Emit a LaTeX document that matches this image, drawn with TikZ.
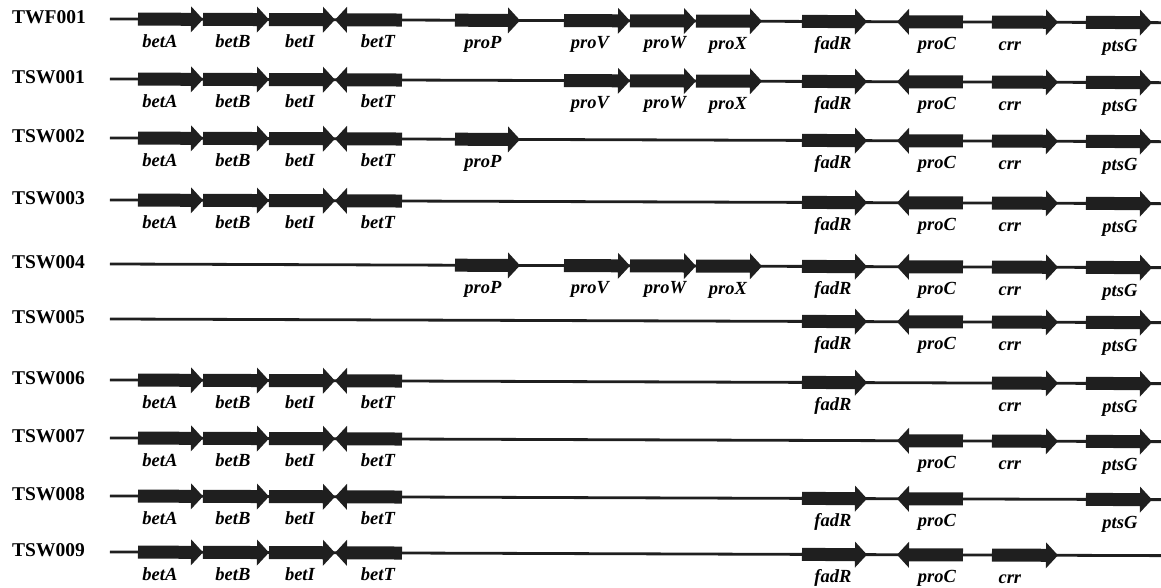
\documentclass[tikz,border=0pt]{standalone}
\usepackage{fontspec}
\setmainfont{Liberation Serif}
\tikzset{
  strain/.style={anchor=west, inner sep=0pt, font=\fontsize{19.5}{22}\selectfont\bfseries},
  genelabel/.style={anchor=base, inner sep=0pt, font=\fontsize{18.5}{21}\selectfont\bfseries\itshape},
  chrom/.style={line width=2.8pt, draw=black!88},
  genebody/.style={fill=black!88},
}

% gene: start, end, label x, label drop, direction (1 right, -1 left)
\newcommand{\genedata}[6]{\expandafter\def\csname gd#1\endcsname{{#2}{#3}{#4}{#5}{#6}}}
\genedata{betA}{138}{203}{160}{28}{1}
\genedata{betB}{203}{269}{233}{28}{1}
\genedata{betI}{269}{335}{300}{28}{1}
\genedata{betT}{335}{402}{378}{28}{-1}
\genedata{proP}{455}{520}{483}{28}{1}
\genedata{proV}{564}{630}{590}{28}{1}
\genedata{proW}{630}{696}{665}{28}{1}
\genedata{proX}{696}{762}{728}{28}{1}
\genedata{fadR}{802}{867}{833}{27.5}{1}
\genedata{proC}{897}{963}{937}{27.5}{-1}
\genedata{crr}{992}{1058}{1010}{28.5}{1}
\genedata{ptsG}{1086}{1152}{1120}{28.5}{1}

\newcommand{\drawgene}[3]{\expandafter\expandafter\expandafter\drawgeneaux\csname gd#3\endcsname{#1}{#2}{#3}}
\newcommand{\drawgeneaux}[8]{%
  \ifnum#5>0
    \fill[genebody] (#1,#7-6.5) -- (#2-12,#7-6.5) -- (#2-12,#7-13) -- (#2,#7)
      -- (#2-12,#7+13) -- (#2-12,#7+6.5) -- (#1,#7+6.5) -- cycle;
  \else
    \fill[genebody] (#2,#7-6.5) -- (#1+12,#7-6.5) -- (#1+12,#7-13) -- (#1,#7)
      -- (#1+12,#7+13) -- (#1+12,#7+6.5) -- (#2,#7+6.5) -- cycle;
  \fi
  \node[genelabel] (#6-#8) at (#3,#7+#4) {#8};
}

\begin{document}
\begin{tikzpicture}[x=1pt, y=-1pt]
  \useasboundingbox (0,0) rectangle (1161,587);

  % one chromosome map per strain
  \foreach \r/\y/\sname/\genes in {
      r1/19/TWF001/{betA,betB,betI,betT,proP,proV,proW,proX,fadR,proC,crr,ptsG},
      r2/79/TSW001/{betA,betB,betI,betT,proV,proW,proX,fadR,proC,crr,ptsG},
      r3/138/TSW002/{betA,betB,betI,betT,proP,fadR,proC,crr,ptsG},
      r4/200/TSW003/{betA,betB,betI,betT,fadR,proC,crr,ptsG},
      r5/264/TSW004/{proP,proV,proW,proX,fadR,proC,crr,ptsG},
      r6/319/TSW005/{fadR,proC,crr,ptsG},
      r7/380/TSW006/{betA,betB,betI,betT,fadR,crr,ptsG},
      r8/438/TSW007/{betA,betB,betI,betT,proC,crr,ptsG},
      r9/496/TSW008/{betA,betB,betI,betT,fadR,proC,ptsG},
      r10/552/TSW009/{betA,betB,betI,betT,fadR,proC,crr}} {
    \node[strain] (\r) at (12,\y-2) {\sname};
    \begin{scope}[rotate around={-0.2:(110,\y)}]
      \coordinate (\r-s) at (110,\y);
      \coordinate (\r-e) at (1166,\y);
      \draw[chrom] (\r-s) -- (\r-e);
      \foreach \g in \genes {\drawgene{\r}{\y}{\g}}
    \end{scope}
  }
\end{tikzpicture}
\end{document}
